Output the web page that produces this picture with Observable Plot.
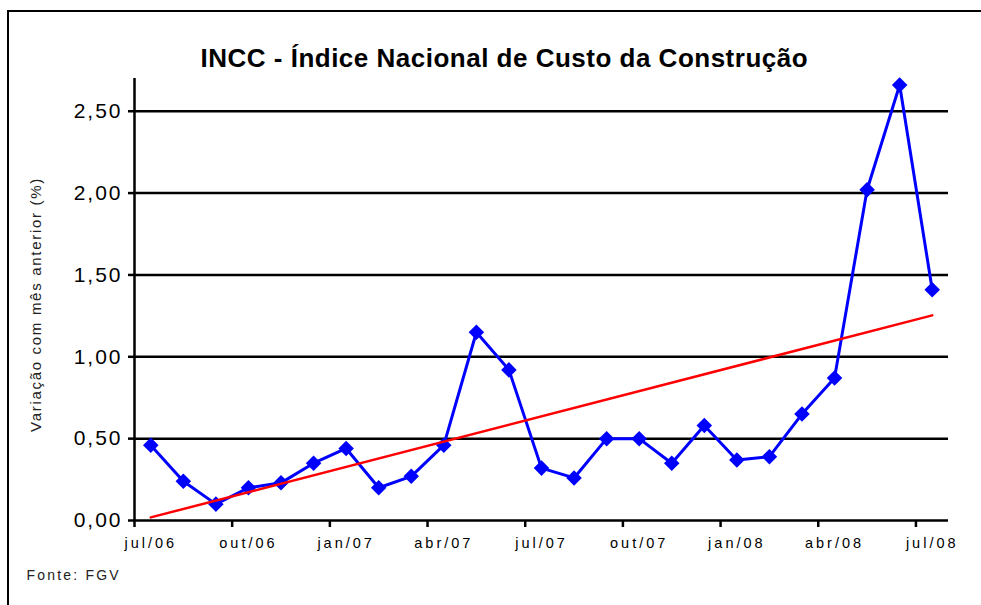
<!DOCTYPE html>
<html>
<head>
<meta charset="utf-8">
<script src="https://cdn.jsdelivr.net/npm/d3@7"></script>
<script src="https://cdn.jsdelivr.net/npm/@observablehq/plot@0.6"></script>
<style>
  body { margin: 0; background: #fff; }
  #chart svg { display: block; font-family: "Liberation Sans", Arial, sans-serif; }
  g[aria-label="y-axis tick label"] text { letter-spacing: 2px; }
  g[aria-label="x-axis tick label"] text { letter-spacing: 3px; }
</style>
</head>
<body>
<div id="chart"></div>
<script>
// ---- data ----
const months = ["jul/06","ago/06","set/06","out/06","nov/06","dez/06",
                "jan/07","fev/07","mar/07","abr/07","mai/07","jun/07",
                "jul/07","ago/07","set/07","out/07","nov/07","dez/07",
                "jan/08","fev/08","mar/08","abr/08","mai/08","jun/08","jul/08"];
const values = [0.46, 0.24, 0.10, 0.20, 0.23, 0.35,
                0.44, 0.20, 0.27, 0.46, 1.15, 0.92,
                0.32, 0.26, 0.50, 0.50, 0.35, 0.58,
                0.37, 0.39, 0.65, 0.87, 2.02, 2.66, 1.41];
const yTicks = [0, 0.5, 1, 1.5, 2, 2.5];
const yGrid = [0.5, 1, 1.5, 2, 2.5];
const xLabelIdx = [0, 3, 6, 9, 12, 15, 18, 21, 24];
const xBoundaries = [-0.5, 2.5, 5.5, 8.5, 11.5, 14.5, 17.5, 20.5, 23.5];
const titleText = "INCC - Índice Nacional de Custo da Construção";
const yLabelText = "Variação com mês anterior (%)";
const sourceText = "Fonte: FGV";

const data = months.map((m, i) => ({i, month: m, v: values[i]}));
const fmt = d => d3.format(".2f")(d).replace(".", ",");

const chart = Plot.plot({
  width: 981,
  height: 605,
  marginLeft: 134,
  marginRight: 33,
  marginTop: 78,
  marginBottom: 85,
  style: {background: "#fff", color: "#000", overflow: "hidden"},
  x: {type: "linear", domain: [-0.5, 24.5]},
  y: {domain: [0, 2.7]},
  marks: [
    Plot.ruleY(yGrid, {stroke: "#000", strokeWidth: 2.5}),
    Plot.ruleY([0], {stroke: "#000", strokeWidth: 2.5}),
    Plot.ruleX([-0.5], {stroke: "#000", strokeWidth: 2.5}),
    Plot.axisY(yTicks, {tickSize: 6, tickPadding: 6, strokeWidth: 2.5, fontSize: 21, tickFormat: fmt, label: null}),
    Plot.axisX(xBoundaries, {tickSize: 7, strokeWidth: 2.5, tickFormat: () => "", label: null}),
    Plot.axisX(xLabelIdx, {tickSize: 0, tickPadding: 17, fontSize: 14.5, tickFormat: i => months[i], label: null}),
    Plot.line(data, {x: "i", y: "v", stroke: "#0000FF", strokeWidth: 3}),
    Plot.dot(data, {x: "i", y: "v", symbol: "diamond2", r: 7, fill: "#0000FF", stroke: "none"}),
    Plot.linearRegressionY(data, {x: "i", y: "v", stroke: "#FF0000", strokeWidth: 2.5, ci: 0}),
    Plot.text([titleText], {frameAnchor: "top-left", textAnchor: "start", dx: 66, dy: -30, fontSize: 26, fontWeight: "bold", fill: "#000", style: {letterSpacing: "0.5px"}}),
    Plot.text([yLabelText], {frameAnchor: "left", textAnchor: "middle", rotate: -90, dx: -98, dy: 5, fontSize: 15, fill: "#222"}),
    Plot.text([sourceText], {frameAnchor: "bottom-left", textAnchor: "start", dx: -108, dy: 59.5, fontSize: 14, fill: "#222"})
  ]
});

// outer chart border (decoration)
d3.select(chart).insert("rect", ":first-child")
  .attr("x", 8).attr("y", 11).attr("width", 1200).attr("height", 1000)
  .attr("fill", "none").attr("stroke", "#000").attr("stroke-width", 2);

// letter spacing for plain texts
d3.select(chart).selectAll("g[aria-label='text'] text").each(function() {
  const t = this.textContent;
  if (t === titleText) this.style.letterSpacing = "0.5px";
  else if (t === yLabelText) this.style.letterSpacing = "1.7px";
  else if (t === sourceText) this.style.letterSpacing = "2.2px";
});

document.getElementById("chart").appendChild(chart);
</script>
</body>
</html>
